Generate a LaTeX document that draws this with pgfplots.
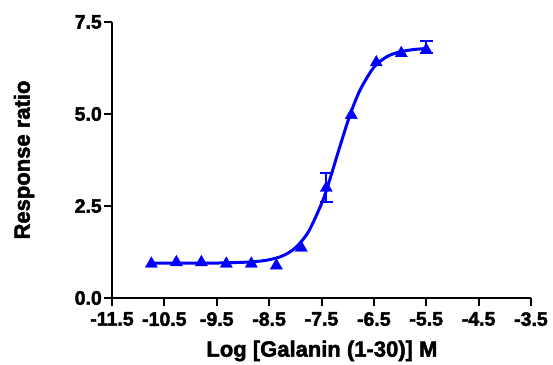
\documentclass[border=0pt]{standalone}
\usepackage{fontspec}
\setmainfont{Liberation Sans}[UprightFont={* Bold}, BoldFont={* Bold}, UprightFeatures={FakeBold=2.2}, BoldFeatures={FakeBold=2.2}]
\usepackage{pgfplots}
\pgfplotsset{compat=1.18}
\definecolor{prismblue}{RGB}{0,0,255}
\begin{document}
\begin{tikzpicture}
\begin{axis}[
  scale only axis,
  width=419pt, height=276pt,
  xmin=-11.5, xmax=-3.5,
  ymin=0, ymax=7.5,
  axis x line*=bottom, axis y line*=left,
  axis line style={line width=2pt, -},
  xtick={-11.5,-10.5,-9.5,-8.5,-7.5,-6.5,-5.5,-4.5,-3.5},
  ytick={0,2.5,5,7.5},
  tick align=outside,
  major tick length=8pt,
  tick style={line width=2pt, black},
  /pgf/number format/assume math mode=true,
  xticklabel={\pgfmathprintnumber[fixed,fixed zerofill,precision=1,assume math mode=true]{\tick}},
  yticklabel={\pgfmathprintnumber[fixed,fixed zerofill,precision=1,assume math mode=true]{\tick}},
  tick label style={font=\fontsize{19.5}{22}\selectfont\bfseries, inner sep=2pt},
  xticklabel style={yshift=-4pt},
  label style={font=\fontsize{22}{26}\selectfont\bfseries},
  xlabel={Log [Galanin (1-30)] M},
  ylabel={Response ratio},
  xlabel style={at={(axis description cs:0.501,-0.192)}, anchor=center},
  ylabel style={at={(axis description cs:-0.21,0.5)}, anchor=center},
  clip=false,
]
% fitted curve
\addplot[prismblue, line width=3pt, smooth, no marks] coordinates {
(-10.75,0.95) (-10.0,0.95) (-9.5,0.95) (-9.0,0.97) (-8.75,0.99) (-8.5,1.04)
(-8.25,1.14) (-8.0,1.36) (-7.75,1.80) (-7.5,2.56) (-7.4,2.96) (-7.3,3.41)
(-7.2,3.88) (-7.1,4.34) (-7.0,4.79) (-6.9,5.19) (-6.75,5.69) (-6.5,6.27)
(-6.25,6.56) (-6.0,6.69) (-5.75,6.75) (-5.5,6.78)
};
% error bars
\addplot[prismblue, draw=none, mark=none, line width=2pt,
  error bars/.cd, y dir=both, y explicit,
  error bar style={line width=2pt, prismblue},
  error mark options={rotate=90, mark size=6.5pt, line width=2pt, prismblue}]
  coordinates {
(-7.408,2.99) += (0,0.41) -= (0,0.37)
(-5.5,6.74) += (0,0.24) -= (0,0.08)
};
% data points
\addplot[prismblue, only marks, mark=triangle*, mark size=7pt,
  mark options={fill=prismblue, draw=prismblue}] coordinates {
(-10.748,0.93) (-10.271,0.97) (-9.794,0.97) (-9.317,0.93) (-8.840,0.93)
(-8.362,0.88) (-7.885,1.36) (-7.408,2.99) (-6.931,4.97) (-6.454,6.40)
(-5.977,6.65) (-5.5,6.74)
};
\end{axis}
\pgfresetboundingbox
\path (-112pt,-66pt) rectangle (441pt,298pt);
\end{tikzpicture}
\end{document}
